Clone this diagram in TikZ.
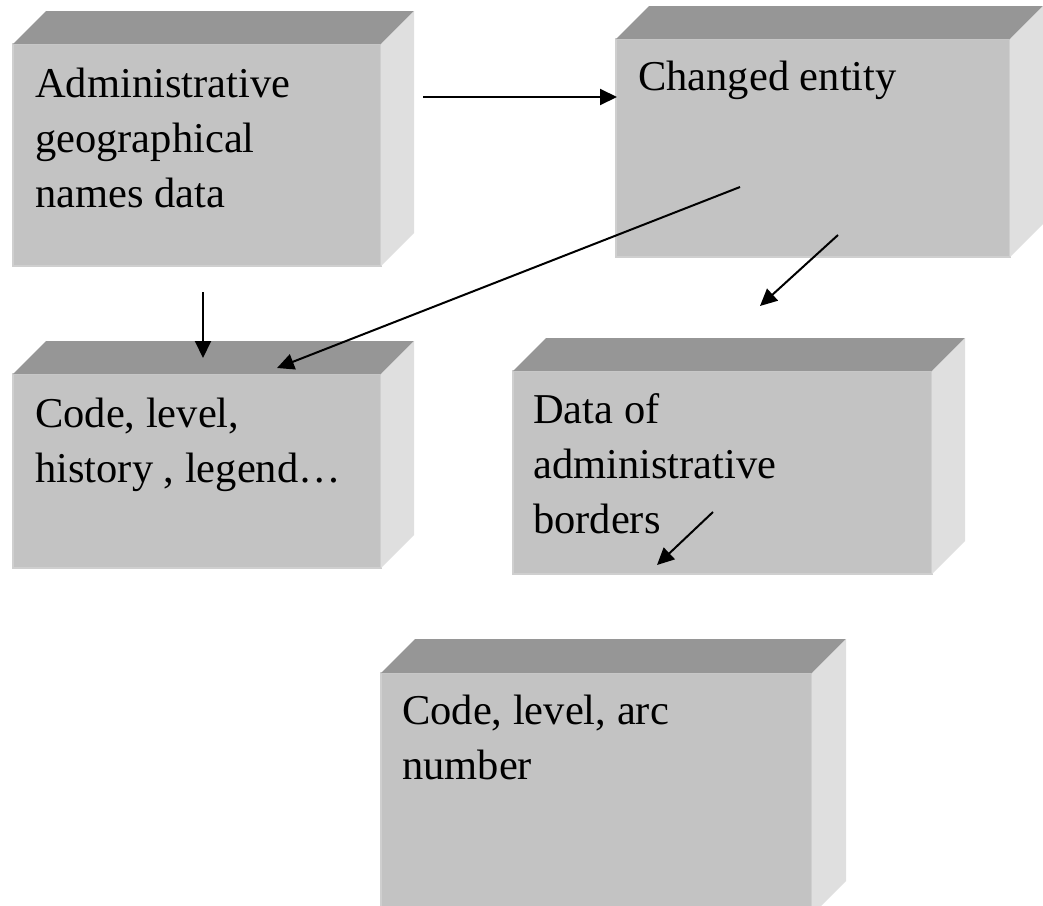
\documentclass[tikz,border=0pt]{standalone}
\usepackage{fontspec}
\setmainfont{Liberation Serif}
\usetikzlibrary{arrows.meta}
\definecolor{frontc}{HTML}{C3C3C3}
\definecolor{topc}{HTML}{969696}
\definecolor{sidec}{HTML}{DFDFDF}
\definecolor{edgec}{HTML}{CFCFCF}
\tikzset{
  front/.style={rectangle, fill=frontc, draw=edgec, line width=1.2pt, inner sep=0pt, outer sep=0pt, anchor=north west},
  boxtext/.style={anchor=north west, inner sep=0pt, align=left, font=\fontsize{42.5}{55}\selectfont},
  conn/.style={line width=2pt, -{Triangle[length=17pt,width=16pt]}},
}
\newcommand\cubefaces[2]{%
  \fill[topc] (#1.north west) -- ++(#2,-#2) -- ([shift={(#2,-#2)}]#1.north east) -- (#1.north east) -- cycle;
  \fill[sidec] (#1.north east) -- ++(#2,-#2) -- ([shift={(#2,-#2)}]#1.south east) -- (#1.south east) -- cycle;
}
\begin{document}
\begin{tikzpicture}[x=1pt,y=-1pt]
  \useasboundingbox (0,0) rectangle (1043,905);
  \begin{scope}
  \clip (0,0) rectangle (1043,905);
  % boxes
  \node[front, minimum width=368pt, minimum height=222pt] (b1) at (13,44) {};
  \cubefaces{b1}{33}
  \node[front, minimum width=394pt, minimum height=218pt] (b2) at (616,39) {};
  \cubefaces{b2}{33}
  \node[front, minimum width=368pt, minimum height=194pt] (b3) at (13,374) {};
  \cubefaces{b3}{33}
  \node[front, minimum width=419pt, minimum height=203pt] (b4) at (513,371) {};
  \cubefaces{b4}{33}
  \node[front, minimum width=431pt, minimum height=242pt] (b5) at (381,673) {};
  \cubefaces{b5}{34}
  \end{scope}
  % texts
  \node[boxtext] (t1) at (35,68) {Administrative\\geographical\\names data};
  \node[boxtext] (t2) at (638,61) {Changed entity};
  \node[boxtext] (t3) at (35,398) {Code, level,\\history , legend…};
  \node[boxtext] (t4) at (533,393) {Data of\\administrative\\borders};
  \node[boxtext] (t5) at (402,695) {Code, level, arc\\number};
  % arrow end points
  \coordinate (a1s) at (423,97);
  \coordinate (a1e) at (617,97);
  \coordinate (a2s) at (740,187);
  \coordinate (a2e) at (277,368);
  \coordinate (a3s) at (838,235);
  \coordinate (a3e) at (760,306);
  \coordinate (a4s) at (203,292);
  \coordinate (a4e) at (203,358);
  \coordinate (a5s) at (713,512);
  \coordinate (a5e) at (657,565);
  \draw[conn] (a1s) -- (a1e);
  \draw[conn] (a2s) -- (a2e);
  \draw[conn] (a3s) -- (a3e);
  \draw[conn] (a4s) -- (a4e);
  \draw[conn] (a5s) -- (a5e);
\end{tikzpicture}
\end{document}
